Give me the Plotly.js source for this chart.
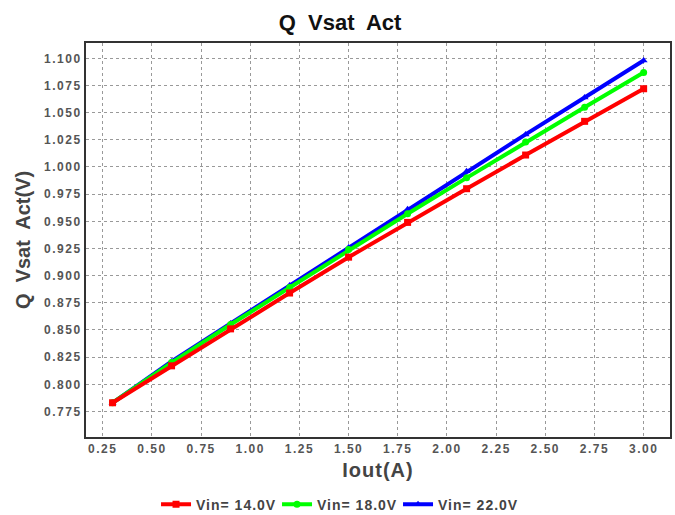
<!DOCTYPE html>
<html><head><meta charset="utf-8">
<script src="https://cdn.plot.ly/plotly-3.0.1.min.js"></script>
<style>
html,body{margin:0;padding:0;background:#fff}#chart{width:675px;height:515px}
#chart .xtick text, #chart .ytick text { letter-spacing: 1.5px; }
#chart .g-xtitle text { letter-spacing: 1px; }
#chart .legendtext { letter-spacing: 1px; }
</style>
</head><body><div id="chart"></div>
<script>
var iout = [0.3, 0.6, 0.9, 1.2, 1.5, 1.8, 2.1, 2.4, 2.7, 3.0];
var vin14 = [0.783, 0.817, 0.851, 0.884, 0.917, 0.949, 0.980, 1.011, 1.042, 1.072];
var vin18 = [0.783, 0.820, 0.855, 0.889, 0.924, 0.957, 0.990, 1.023, 1.055, 1.087];
var vin22 = [0.783, 0.821, 0.856, 0.891, 0.926, 0.961, 0.996, 1.030, 1.064, 1.098];
var names = ["Vin= 14.0V", "Vin= 18.0V", "Vin= 22.0V"];
var xTicks = [0.25,0.5,0.75,1.0,1.25,1.5,1.75,2.0,2.25,2.5,2.75,3.0];
var yTicks = [0.775,0.8,0.825,0.85,0.875,0.9,0.925,0.95,0.975,1.0,1.025,1.05,1.075,1.1];

function tr(y, name, color, sym, rank){
  return {x: iout, y: y, name: '<b>' + name + '</b>', type: 'scatter', mode: 'lines+markers',
    line: {color: color, width: 4}, marker: {symbol: sym, size: 7, color: color},
    legendrank: rank};
}
var data = [
  tr(vin22, names[2], '#0000ff', 'triangle-up', 3),
  tr(vin18, names[1], '#00ff00', 'circle', 2),
  tr(vin14, names[0], '#ff0000', 'square', 1)
];
var font = 'Liberation Sans, Arial, sans-serif';
var layout = {
  width: 675, height: 515,
  margin: {l: 86, r: 5, t: 43, b: 78, autoexpand: false},
  paper_bgcolor: '#fff', plot_bgcolor: '#fff',
  font: {family: font, color: '#444'},
  title: {text: '<b>Q  Vsat  Act</b>', xref: 'paper', x: 0.435, xanchor: 'center', y: 0.957, yanchor: 'middle',
    font: {family: font, size: 22, color: '#111'}},
  xaxis: {range: [0.165, 3.134], tickvals: xTicks, ticktext: xTicks.map(function(v){return '<b>'+v.toFixed(2)+'</b>';}),
    tickangle: 0, automargin: false,
    showgrid: true, gridcolor: '#999', griddash: 'dot', gridwidth: 1,
    showline: true, linecolor: '#333', linewidth: 2, mirror: true, zeroline: false, ticks: '',
    tickfont: {size: 12, color: '#555'},
    title: {text: '<b>Iout(A)</b>', font: {size: 20, color: '#444'}, standoff: 8}},
  yaxis: {range: [0.7515, 1.1141], tickvals: yTicks, ticktext: yTicks.map(function(v){return '<b>'+v.toFixed(3)+'</b>';}),
    automargin: false,
    showgrid: true, gridcolor: '#999', griddash: 'dot', gridwidth: 1,
    showline: true, linecolor: '#333', linewidth: 2, mirror: true, zeroline: false, ticks: '',
    tickfont: {size: 12, color: '#555'},
    title: {text: '<b>Q  Vsat  Act(V)</b>', font: {size: 20, color: '#444'}, standoff: 16}},
  showlegend: true,
  legend: {orientation: 'h', x: 0.4307, xanchor: 'center', y: -0.172, yanchor: 'middle',
    font: {size: 14, color: '#444'}, itemwidth: 30, tracegroupgap: 0,
    entrywidth: 76, entrywidthmode: 'pixels'}
};
Plotly.newPlot('chart', data, layout, {displayModeBar: false, staticPlot: true});
</script></body></html>
